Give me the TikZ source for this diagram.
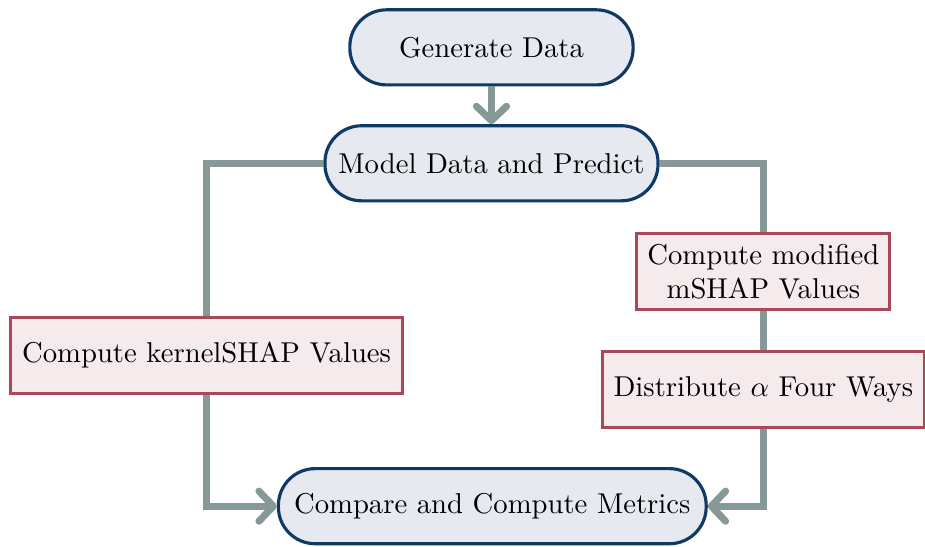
\documentclass[tikz,border=0pt]{standalone}
\usepackage{amsmath, amssymb}
\usepackage{xcolor}
\usetikzlibrary{calc,arrows.meta}

\definecolor{stepblue}{HTML}{0F3A65}
\definecolor{stepbluefill}{HTML}{E6EAF0}
\definecolor{shapred}{HTML}{A8485A}
\definecolor{shapredfill}{HTML}{F5EBEC}
\definecolor{linkgray}{HTML}{879898}

\begin{document}
\begin{tikzpicture}[
  stadium/.style={draw=stepblue, line width=1.1pt, fill=stepbluefill, rounded corners=0.45cm, minimum height=0.92cm, inner sep=0pt},
  shapbox/.style={draw=shapred, line width=1.1pt, fill=shapredfill, minimum height=0.93cm, inner sep=0pt, align=center},
  link/.style={draw=linkgray, line width=2.45pt},
  tip/.style={-{Straight Barb[length=5pt, width=10.5pt, round]}}
]
\useasboundingbox (0,0) rectangle (11.33,-6.69);
\node[stadium, minimum width=3.47cm] (gen) at (6.02,-0.58) {Generate Data};
\node[stadium, minimum width=4.08cm] (model) at (6.02,-2.00) {Model Data and Predict};
\node[stadium, minimum width=5.24cm] (compare) at (6.03,-6.20) {Compare and Compute Metrics};
\node[shapbox, minimum width=4.81cm] (kernel) at (2.53,-4.35) {Compute kernelSHAP Values};
\node[shapbox, minimum width=3.10cm] (mshap) at (9.35,-3.33) {Compute modified\\mSHAP Values};
\node[shapbox, minimum width=3.94cm] (distr) at (9.35,-4.77) {Distribute $\alpha$ Four Ways};
% connectors
\draw[link, tip] (gen.south) -- (model.north);
\draw[link] (model.west) -| (kernel.north);
\draw[link, tip] (kernel.south) |- (compare.west);
\draw[link] (model.east) -| (mshap.north);
\draw[link] (mshap.south) -- (distr.north);
\draw[link, tip] (distr.south) |- (compare.east);
\end{tikzpicture}
\end{document}
